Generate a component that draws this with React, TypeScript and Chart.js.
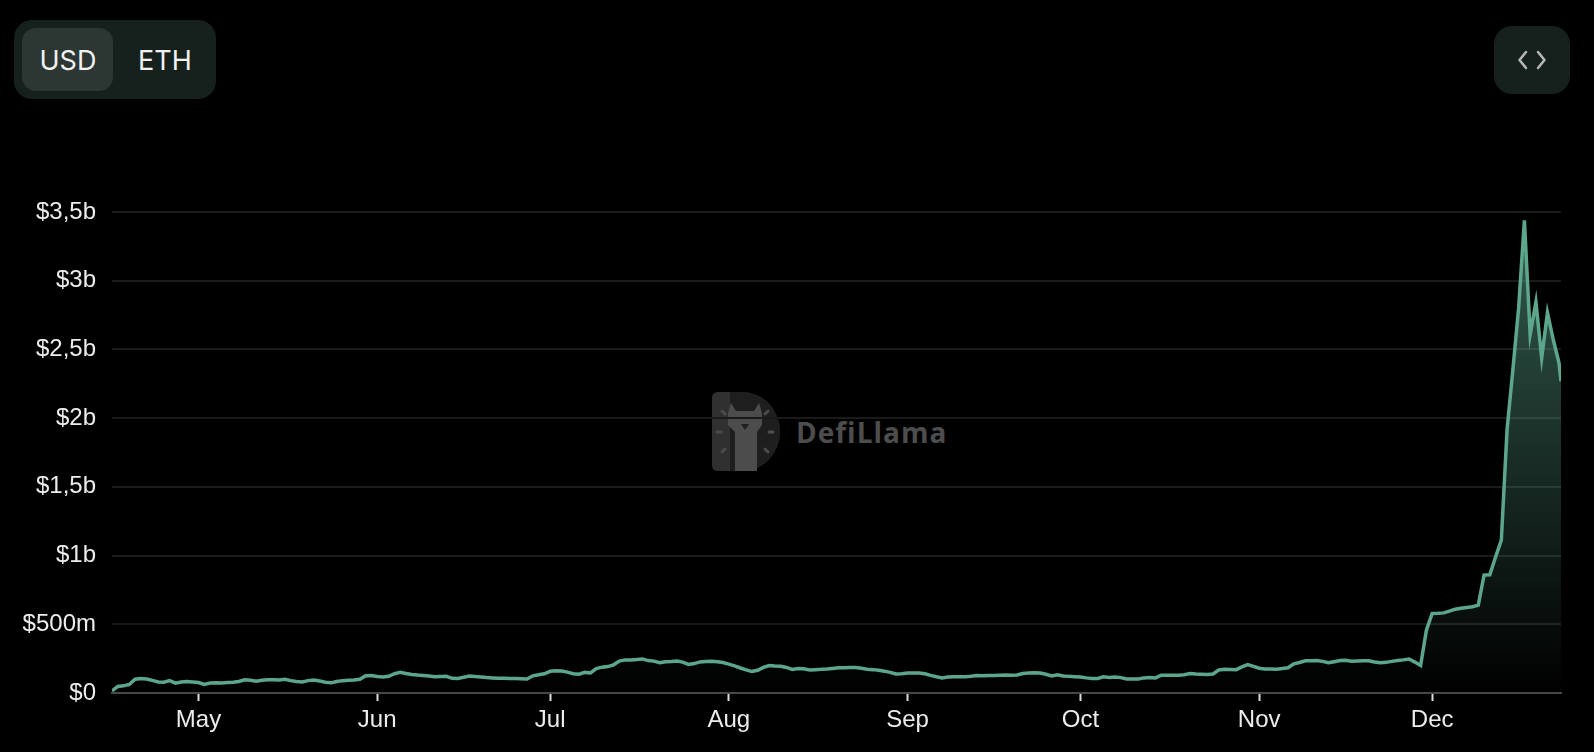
import React, { useEffect, useRef } from "react";
import { Chart, registerables } from "chart.js";

Chart.register(...registerables);

// Daily TVL (millions USD) from 2024-04-16 to 2024-12-23, plus a last partial-day sample
const tvlMillions: number[] = [
  15, 48, 52, 62, 100, 106, 102, 92, 80, 78,
  90, 72, 80, 84, 80, 76, 62, 72, 74, 73,
  76, 79, 84, 96, 92, 86, 92, 97, 96, 94,
  100, 90, 84, 80, 90, 95, 88, 78, 74, 84,
  90, 92, 94, 100, 126, 127, 120, 116, 122, 140,
  150, 142, 135, 131, 128, 124, 118, 120, 121, 107,
  106, 115, 124, 120, 117,
  112, 110, 108, 107, 106, 105, 104, 102, 125, 133,
  140, 158, 162, 160, 152, 140, 137, 150, 146, 178,
  188, 192, 205, 232, 241, 241, 244, 248, 236, 232,
  220, 228, 230, 233, 225, 208, 214, 226, 230, 231,
  228, 222, 210, 198, 182, 168, 156, 165, 186, 200,
  197, 195, 186, 172, 178, 176, 168, 170, 172, 175,
  179, 183, 184, 185,
  185, 180, 173, 170, 165, 159, 150, 138, 140, 145,
  146, 146, 140, 128, 118, 110, 116, 119, 119, 119,
  122, 127, 126, 127, 128, 130, 131, 129, 131, 142,
  146, 148, 146, 136, 124, 133, 124, 121, 119, 117,
  110, 106, 106, 118, 113, 116, 112, 102, 102, 102,
  110, 112, 110, 130, 130, 129, 129, 133, 141, 138,
  136, 134,
  138, 168, 172, 171, 170, 190, 206, 194, 180, 175,
  174, 173, 178, 184, 212, 222, 234, 235, 236, 230,
  220, 228, 236, 238, 231, 233, 235, 235, 226, 221,
  223, 230, 237, 241, 247, 225, 200, 457,
  579, 580, 583, 596, 610, 616, 622, 628, 639, 858,
  860, 990, 1113, 1920, 2350, 2800, 3440, 2608, 2844, 2438,
  2767, 2572, 2402,
  2268,
];

// The last sample is taken part-way through the day (hours after midnight)
const lastSampleHours = 8.4;

// Month tick positions (day index from 2024-04-16) and labels
const monthTickIndex: number[] = [15, 46, 76, 107, 138, 168, 199, 229];
const monthLabels: string[] = ["May", "Jun", "Jul", "Aug", "Sep", "Oct", "Nov", "Dec"];

const yMax = 3500;
const yStep = 500;

const lineColor = "#5ca68c";

function formatUsd(v: number): string {
  if (v === 0) return "$0";
  if (v < 1000) return `$${v}m`;
  return `$${String(v / 1000).replace(".", ",")}b`;
}

export default function App() {
  const canvasRef = useRef<HTMLCanvasElement | null>(null);

  useEffect(() => {
    document.body.style.margin = "0";
    document.body.style.background = "#000";
    const canvas = canvasRef.current;
    if (!canvas) return;
    const n = tvlMillions.length;
    const lastX = n - 2 + lastSampleHours / 24;
    const points = tvlMillions.map((v, i) => ({ x: i === n - 1 ? lastX : i, y: v }));
    const tickFont = { family: "'Liberation Sans', Arial, Helvetica, sans-serif", size: 24 };
    const chart = new Chart(canvas, {
      type: "line",
      data: {
        datasets: [
          {
            data: points,
            borderColor: lineColor,
            borderWidth: 3.5,
            pointRadius: 0,
            tension: 0,
            fill: "origin",
            backgroundColor: (ctx: any) => {
              const c = ctx.chart;
              const { chartArea, scales } = c;
              if (!chartArea) return "rgba(0,0,0,0)";
              const top = scales.y.getPixelForValue(Math.max(...tvlMillions));
              const g = c.ctx.createLinearGradient(0, top, 0, chartArea.bottom);
              g.addColorStop(0, "rgba(92,166,140,0.55)");
              g.addColorStop(1, "rgba(92,166,140,0)");
              return g;
            },
          },
        ],
      },
      options: {
        animation: false,
        responsive: false,
        devicePixelRatio: 1,
        layout: { padding: { top: 212, right: 33, left: 0, bottom: 0 } },
        plugins: { legend: { display: false }, tooltip: { enabled: false } },
        scales: {
          x: {
            type: "linear",
            min: 0,
            max: lastX,
            afterFit: (scale: any) => {
              scale.height = 59;
            },
            afterBuildTicks: (scale: any) => {
              scale.ticks = monthTickIndex.map((v) => ({ value: v }));
            },
            ticks: {
              autoSkip: false,
              maxRotation: 0,
              color: "#ececec",
              font: tickFont,
              padding: 5,
              callback: (v: any) => {
                const i = monthTickIndex.indexOf(Number(v));
                return i >= 0 ? monthLabels[i] : "";
              },
            },
            grid: {
              drawOnChartArea: false,
              drawTicks: true,
              tickLength: 8,
              tickColor: "#dcdcdc",
              tickWidth: 2,
              color: "#dcdcdc",
            },
            border: { display: true, color: "#474747", width: 2 },
          },
          y: {
            min: 0,
            max: yMax,
            afterFit: (scale: any) => {
              scale.width = 112;
            },
            ticks: {
              stepSize: yStep,
              color: "#ececec",
              font: tickFont,
              padding: 16,
              callback: (v: any) => formatUsd(Number(v)),
            },
            grid: { color: "#1a1a1a", lineWidth: 2, drawTicks: false },
            border: { display: false },
          },
        },
      },
    });
    return () => chart.destroy();
  }, []);

  return (
    <div style={{ position: "relative", width: 1594, height: 752, background: "#000", overflow: "hidden" }}>
      <svg width={1594} height={752} style={{ position: "absolute", left: 0, top: 0 }}>
        {/* Currency toggle */}
        <rect x={14} y={20} width={202} height={79} rx={18} fill="#16201d" />
        <rect x={22} y={28} width={91} height={63} rx={14} fill="#2c3633" />
        <text x={39.5} y={69.5} fontFamily="Inter, 'Noto Sans', sans-serif" fontSize={27} fill="#f2f2f2">USD</text>
        <text x={138} y={69.5} fontFamily="Inter, 'Noto Sans', sans-serif" fontSize={27} fill="#f2f2f2">ETH</text>
        {/* Embed button */}
        <rect x={1494} y={26} width={76} height={68} rx={18} fill="#16201d" />
        <polyline points="1526,52 1519.5,60 1526,68" fill="none" stroke="#b8b8b8" strokeWidth={2.5} strokeLinecap="round" strokeLinejoin="round" />
        <polyline points="1538,52 1544.5,60 1538,68" fill="none" stroke="#b8b8b8" strokeWidth={2.5} strokeLinecap="round" strokeLinejoin="round" />
        {/* Watermark */}
        <path d="M718 392 H742 A38 39.5 0 0 1 742 471 H718 Q712 471 712 465 V398 Q712 392 718 392 Z" fill="#303030" />
        <path d="M730 392 H742 A38 39.5 0 0 1 742 471 H730 Z" fill="#1e1e1e" />
        <path d="M731 403 L736 411 L754 411 L759 403 L762 413 L762 425 L757 432 L757 471 L735 471 L735 432 L728 425 L728 413 Z" fill="#4c4c4c" />
        <path d="M741 424 L749 424 L745 430 Z" fill="#202020" />
        <line x1={717} y1={432} x2={721} y2={432} stroke="#4c4c4c" strokeWidth={3} strokeLinecap="round" />
        <line x1={769} y1={432} x2={773} y2={432} stroke="#4c4c4c" strokeWidth={3} strokeLinecap="round" />
        <line x1={722} y1={411} x2={725} y2={414} stroke="#4c4c4c" strokeWidth={3} strokeLinecap="round" />
        <line x1={768} y1={411} x2={765} y2={414} stroke="#4c4c4c" strokeWidth={3} strokeLinecap="round" />
        <line x1={722} y1={452} x2={725} y2={449} stroke="#4c4c4c" strokeWidth={3} strokeLinecap="round" />
        <line x1={768} y1={452} x2={765} y2={449} stroke="#4c4c4c" strokeWidth={3} strokeLinecap="round" />
        <text x={796} y={443} fontFamily="'Open Sans', 'Noto Sans', sans-serif" fontWeight={700} fontSize={28} letterSpacing={1} fill="#4d4d4d">DefiLlama</text>
      </svg>
      <canvas ref={canvasRef} width={1594} height={752} style={{ position: "absolute", left: 0, top: 0 }} />
    </div>
  );
}
